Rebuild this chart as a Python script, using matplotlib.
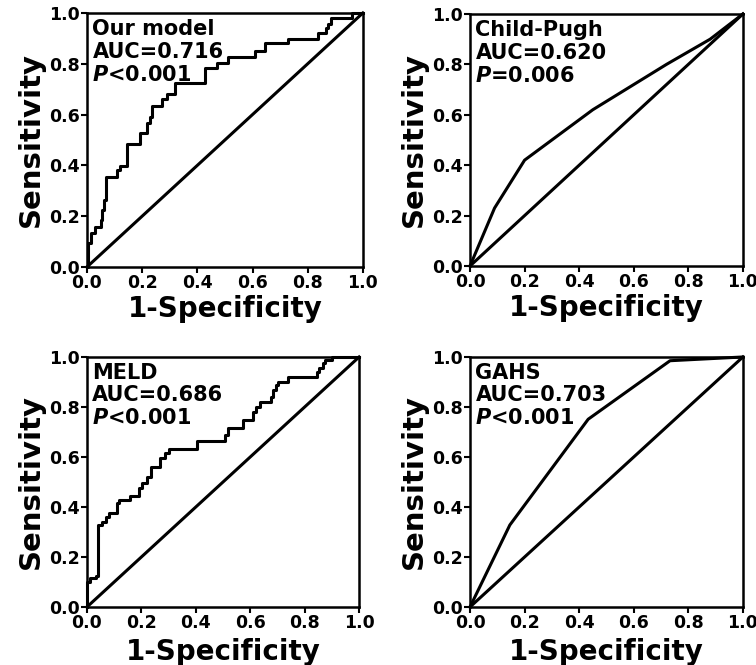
import matplotlib
matplotlib.use("Agg")
import matplotlib.pyplot as plt

plt.rcParams['font.family'] = ['DejaVu Sans']
plt.rcParams['mathtext.fontset'] = 'custom'
plt.rcParams['mathtext.it'] = 'DejaVu Sans:italic:bold'
plt.rcParams['mathtext.rm'] = 'DejaVu Sans:bold'

# ROC curves (fpr, tpr)
# stepped curves: each point is the top of a vertical step (drawn with steps-post)
model_fpr = [0.0, 0.003, 0.016, 0.031, 0.050, 0.056, 0.062, 0.070, 0.110, 0.120,
             0.144, 0.192, 0.216, 0.228, 0.236, 0.271, 0.289, 0.319, 0.428, 0.470,
             0.512, 0.609, 0.645, 0.729, 0.838, 0.868, 0.874, 0.883, 0.959, 1.0]
model_tpr = [0.0, 0.093, 0.133, 0.159, 0.185, 0.224, 0.264, 0.356, 0.380, 0.399,
             0.484, 0.526, 0.568, 0.592, 0.634, 0.660, 0.680, 0.723, 0.782, 0.802,
             0.825, 0.852, 0.881, 0.896, 0.920, 0.940, 0.957, 0.979, 1.0, 1.0]

meld_fpr = [0.0, 0.0, 0.012, 0.033, 0.042, 0.056, 0.069, 0.081, 0.112, 0.118,
            0.158, 0.190, 0.203, 0.222, 0.234, 0.268, 0.287, 0.303, 0.403, 0.507,
            0.517, 0.575, 0.609, 0.621, 0.636, 0.675, 0.685, 0.695, 0.703, 0.740,
            0.844, 0.854, 0.868, 0.875, 0.900, 1.0]
meld_tpr = [0.0, 0.100, 0.118, 0.125, 0.328, 0.341, 0.361, 0.377, 0.415, 0.428,
            0.444, 0.475, 0.495, 0.521, 0.558, 0.595, 0.615, 0.631, 0.664, 0.688,
            0.715, 0.748, 0.781, 0.801, 0.819, 0.839, 0.868, 0.888, 0.901, 0.921,
            0.941, 0.955, 0.975, 0.988, 1.0, 1.0]

# few-level scores: straight segments
cp_fpr = [0.0, 0.09, 0.20, 0.45, 0.72, 0.88, 1.0]
cp_tpr = [0.0, 0.23, 0.42, 0.62, 0.80, 0.90, 1.0]

gahs_fpr = [0.0, 0.146, 0.433, 0.733, 1.0]
gahs_tpr = [0.0, 0.328, 0.751, 0.985, 1.0]

names = ["Our model", "Child-Pugh", "MELD", "GAHS"]
aucs = ["0.716", "0.620", "0.686", "0.703"]
pvals = ["<0.001", "=0.006", "<0.001", "<0.001"]
ticks = [0.0, 0.2, 0.4, 0.6, 0.8, 1.0]
tick_labels = ["0.0", "0.2", "0.4", "0.6", "0.8", "1.0"]

curves = [(model_fpr, model_tpr, 'steps-post'),
          (cp_fpr, cp_tpr, 'default'),
          (meld_fpr, meld_tpr, 'steps-post'),
          (gahs_fpr, gahs_tpr, 'default')]

positions = [[0.115, 0.5985, 0.365, 0.382],
             [0.6217, 0.600, 0.361, 0.379],
             [0.115, 0.0872, 0.360, 0.376],
             [0.6217, 0.0872, 0.361, 0.376]]

fig = plt.figure(figsize=(7.56, 6.65), dpi=100)

for i, (fpr, tpr, ds) in enumerate(curves):
    ax = fig.add_axes(positions[i])
    ax.plot([0, 1], [0, 1], color='black', lw=2.2, clip_on=False)
    ax.plot(fpr, tpr, color='black', lw=2.2, drawstyle=ds, clip_on=False)
    ax.set_xlim(0, 1)
    ax.set_ylim(0, 1)
    ax.set_xticks(ticks)
    ax.set_xticklabels(tick_labels, fontweight='bold')
    ax.set_yticks(ticks)
    ax.set_yticklabels(tick_labels, fontweight='bold')
    ax.tick_params(direction='out', length=4, width=1.5, labelsize=12.5, pad=1)
    for s in ax.spines.values():
        s.set_linewidth(1.8)
    lpad = 2 if i < 2 else 4
    ax.set_xlabel("1-Specificity", fontsize=20, fontweight='bold', labelpad=lpad)
    ax.set_ylabel("Sensitivity", fontsize=21, fontweight='bold', labelpad=3)

    # label block, one text per line
    kw = dict(transform=ax.transAxes, fontsize=15, fontweight='bold', va='baseline', ha='left')
    ax.text(0.02, 0.913, names[i], **kw)
    ax.text(0.02, 0.822, "AUC=" + aucs[i], **kw)
    ax.text(0.02, 0.732, "$P$" + pvals[i], **kw)

fig.savefig("out.png", dpi=100)
